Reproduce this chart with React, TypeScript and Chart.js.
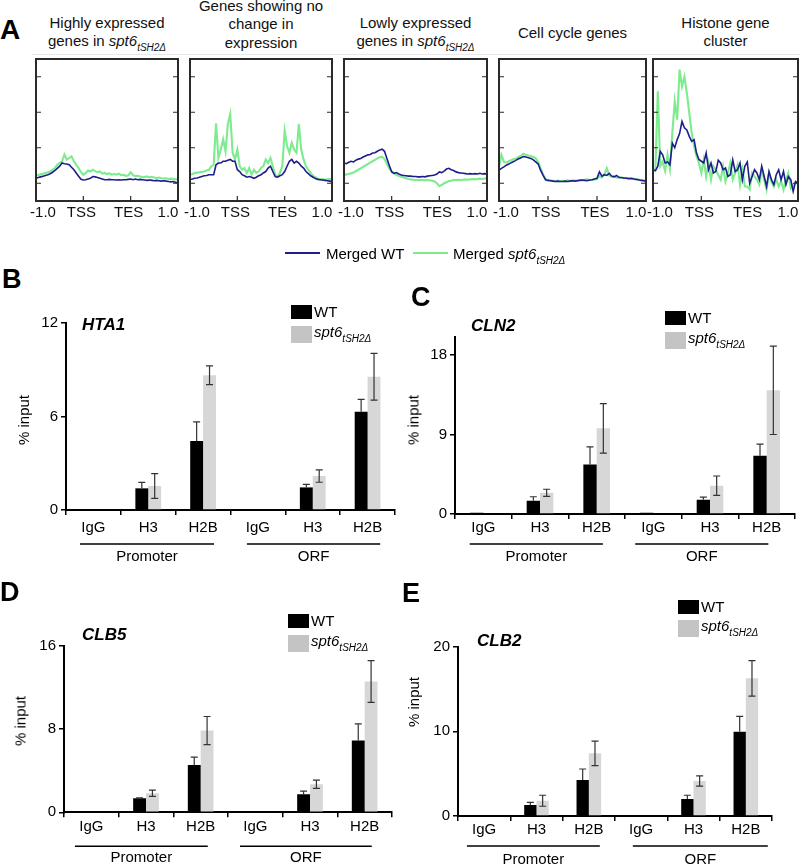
import React, { useEffect, useRef } from 'react';
import { Chart, registerables } from 'chart.js';
Chart.register(...registerables);

const FONT = '"Liberation Sans", Arial, Helvetica, sans-serif';
const BLUE = '#1e1e8c';
const GREEN = '#7deb8e';

// ---------- Panel A data (profiles, 61 bins from -1.0 kb to +1.0 kb, TSS=20, TES=40) ----------
const profileTickLabels = ['-1.0', 'TSS', 'TES', '1.0'];
const profileTickPositions = [0, 20, 40, 60];
const profileYTicks = [0.5, 1.5, 2.5, 3.5];

const highWT = [
  0.64, 0.66, 0.68, 0.70, 0.72, 0.74, 0.77, 0.81, 0.86, 0.92, 0.98,
  1.07, 1.05, 1.04, 1.02, 0.95, 0.88, 0.79, 0.70, 0.61, 0.59,
  0.60, 0.62, 0.64, 0.69, 0.68, 0.66, 0.64, 0.62, 0.60, 0.60,
  0.61, 0.60, 0.60, 0.59, 0.60, 0.59, 0.60, 0.60, 0.61, 0.62,
  0.60, 0.62, 0.60, 0.61, 0.60, 0.59, 0.58, 0.59, 0.58, 0.57,
  0.58, 0.57, 0.56, 0.57, 0.56, 0.55, 0.54, 0.55, 0.53, 0.52,
];
const highMut = [
  0.71, 0.73, 0.75, 0.77, 0.79, 0.81, 0.83, 0.88, 0.93, 1.02, 1.07,
  1.12, 1.31, 1.17, 1.21, 1.26, 1.12, 1.02, 0.93, 0.81, 0.74,
  0.79, 0.86, 0.83, 0.88, 0.84, 0.81, 0.83, 0.77, 0.79, 0.76,
  0.78, 0.74, 0.76, 0.74, 0.77, 0.73, 0.74, 0.71, 0.72, 0.81,
  0.73, 0.70, 0.71, 0.69, 0.67, 0.68, 0.69, 0.67, 0.68, 0.66,
  0.65, 0.66, 0.64, 0.63, 0.64, 0.62, 0.63, 0.62, 0.61, 0.61,
];
const noChangeWT = [
  0.61, 0.62, 0.64, 0.65, 0.67, 0.69, 0.71, 0.72, 0.74, 0.74, 0.74,
  1.02, 1.07, 1.07, 1.12, 1.12, 1.15, 1.17, 1.12, 1.12, 0.88,
  0.83, 0.74, 0.71, 0.67, 0.69, 0.67, 0.64, 0.67, 0.71, 0.74,
  0.79, 0.83, 0.93, 0.98, 0.83, 0.69, 0.67, 0.71, 0.74, 0.83,
  0.98, 1.12, 1.17, 1.07, 1.12, 1.07, 0.98, 0.93, 0.83, 0.77,
  0.71, 0.67, 0.63, 0.61, 0.60, 0.59, 0.58, 0.57, 0.56, 0.55,
];
const noChangeMut = [
  0.74, 0.76, 0.79, 0.80, 0.81, 0.82, 0.83, 0.86, 0.88, 0.98, 1.02,
  2.19, 1.21, 1.45, 1.74, 1.40, 2.17, 2.45, 1.36, 1.17, 1.45,
  0.98, 0.88, 0.93, 0.79, 0.93, 0.74, 0.88, 0.79, 0.83, 0.93,
  0.98, 1.17, 1.07, 1.21, 0.98, 0.74, 0.69, 0.79, 0.98, 1.98,
  1.55, 1.36, 1.64, 1.45, 1.36, 2.17, 1.45, 1.17, 0.98, 0.88,
  0.79, 0.71, 0.67, 0.63, 0.61, 0.62, 0.60, 0.61, 0.62, 0.61,
];
const lowWT = [
  1.07, 1.05, 1.09, 1.12, 1.10, 1.15, 1.18, 1.20, 1.24, 1.27, 1.30,
  1.31, 1.35, 1.36, 1.40, 1.44, 1.46, 1.40, 1.20, 1.00, 0.82,
  0.78, 0.80, 0.76, 0.73, 0.72, 0.71, 0.70, 0.70, 0.69, 0.69,
  0.68, 0.68, 0.69, 0.68, 0.70, 0.71, 0.72, 0.73, 0.76, 0.82,
  0.80, 0.84, 0.90, 0.92, 0.88, 0.86, 0.82, 0.80, 0.79, 0.78,
  0.77, 0.76, 0.77, 0.76, 0.77, 0.76, 0.78, 0.76, 0.77, 0.76,
];
const lowMut = [
  0.73, 0.75, 0.76, 0.78, 0.80, 0.84, 0.88, 0.92, 0.96, 1.00, 1.04,
  1.08, 1.12, 1.16, 1.20, 1.23, 1.25, 1.18, 1.05, 0.92, 0.84,
  0.78, 0.74, 0.70, 0.68, 0.66, 0.64, 0.62, 0.61, 0.60, 0.59,
  0.59, 0.60, 0.59, 0.58, 0.59, 0.58, 0.57, 0.55, 0.50, 0.42,
  0.45, 0.50, 0.53, 0.56, 0.57, 0.59, 0.59, 0.60, 0.59, 0.60,
  0.61, 0.60, 0.61, 0.62, 0.61, 0.62, 0.63, 0.62, 0.63, 0.64,
];
const cellCycleWT = [
  0.87, 0.92, 0.96, 1.01, 1.04, 1.08, 1.11, 1.15, 1.19, 1.22, 1.25,
  1.24, 1.22, 1.20, 1.16, 1.10, 1.04, 0.86, 0.72, 0.60, 0.58,
  0.57, 0.56, 0.55, 0.56, 0.55, 0.55, 0.56, 0.55, 0.56, 0.57,
  0.56, 0.57, 0.58, 0.59, 0.58, 0.57, 0.59, 0.60, 0.62, 0.64,
  0.82, 0.70, 0.74, 0.72, 0.78, 0.70, 0.68, 0.72, 0.66, 0.66,
  0.65, 0.64, 0.63, 0.64, 0.62, 0.61, 0.60, 0.58, 0.57, 0.56,
];
const cellCycleMut = [
  0.95, 1.30, 1.10, 1.08, 1.12, 1.15, 1.18, 1.20, 1.24, 1.28, 1.33,
  1.30, 1.28, 1.27, 1.24, 1.20, 1.10, 0.92, 0.75, 0.62, 0.58,
  0.58, 0.57, 0.56, 0.57, 0.56, 0.57, 0.56, 0.58, 0.57, 0.58,
  0.57, 0.58, 0.59, 0.58, 0.60, 0.61, 0.59, 0.60, 0.61, 0.62,
  0.70, 0.66, 0.75, 0.92, 0.72, 0.68, 0.70, 0.66, 0.67, 0.65,
  0.64, 0.65, 0.63, 0.62, 0.63, 0.61, 0.60, 0.59, 0.58, 0.57,
];
const histoneWT = [
  0.88, 0.85, 0.98, 1.40, 1.30, 1.07, 1.10, 1.02, 1.63, 1.50, 1.73,
  1.90, 2.24, 2.06, 2.00, 1.82, 1.68, 1.73, 1.35, 1.17, 1.12,
  1.07, 1.35, 0.88, 1.07, 0.79, 0.83, 1.15, 1.07, 0.88, 0.93,
  0.69, 0.74, 1.16, 0.83, 0.88, 1.07, 0.60, 0.98, 1.10, 0.50,
  0.69, 0.88, 0.79, 0.60, 0.98, 0.69, 0.41, 0.83, 0.60, 0.46,
  0.74, 0.88, 0.60, 0.83, 0.46, 0.69, 0.60, 0.27, 0.55, 0.51,
];
const histoneMut = [
  0.88, 0.90, 3.09, 0.98, 1.10, 0.85, 1.30, 0.90, 1.92, 2.81, 2.29,
  3.70, 3.23, 3.50, 3.04, 2.48, 1.92, 1.54, 1.26, 1.07, 0.79,
  1.17, 0.69, 1.07, 0.60, 0.98, 0.88, 0.74, 0.60, 0.98, 0.55,
  0.79, 1.07, 0.60, 0.79, 1.02, 0.46, 0.88, 0.41, 0.41, 0.32,
  0.79, 0.69, 0.60, 0.46, 0.88, 0.60, 0.32, 0.79, 0.55, 0.41,
  0.60, 0.41, 0.55, 0.32, 0.60, 0.79, 0.36, 0.46, 0.51, 0.50,
];

// ---------- Panels B-E data (% input) ----------
const chipCategories = ['IgG', 'H3', 'H2B', 'IgG', 'H3', 'H2B'];
const chipGroups = ['Promoter', 'ORF'];

const hta1WT = [0, 1.39, 4.42, 0, 1.45, 6.3];
const hta1WTErr = [0, 0.38, 1.24, 0, 0.2, 0.8];
const hta1Mut = [0, 1.54, 8.65, 0, 2.18, 8.55];
const hta1MutErr = [0, 0.8, 0.6, 0, 0.4, 1.5];
const hta1Ticks = [0, 6, 12];

const cln2WT = [0.15, 1.5, 5.6, 0.15, 1.6, 6.6];
const cln2WTErr = [0, 0.45, 2.0, 0, 0.3, 1.3];
const cln2Mut = [0, 2.4, 9.7, 0, 3.2, 14.0];
const cln2MutErr = [0, 0.4, 2.8, 0, 1.1, 5.0];
const cln2Ticks = [0, 9, 18];

const clb5WT = [0, 1.34, 4.55, 0, 1.73, 6.9];
const clb5WTErr = [0, 0.05, 0.75, 0, 0.3, 1.6];
const clb5Mut = [0, 1.83, 7.85, 0, 2.69, 12.56];
const clb5MutErr = [0, 0.3, 1.35, 0, 0.4, 2.0];
const clb5Ticks = [0, 8, 16];

const clb2WT = [0, 1.3, 4.25, 0, 2.0, 9.96];
const clb2WTErr = [0, 0.3, 1.3, 0, 0.45, 1.8];
const clb2Mut = [0, 1.8, 7.4, 0, 4.13, 16.26];
const clb2MutErr = [0, 0.65, 1.45, 0, 0.6, 2.1];
const clb2Ticks = [0, 10, 20];

// ---------- plugins ----------
const profileFramePlugin = {
  id: 'profileFrame',
  afterDraw(chart: any) {
    const { ctx, chartArea: a, scales } = chart;
    ctx.save();
    ctx.strokeStyle = '#2a2a2a';
    ctx.lineWidth = 2;
    ctx.strokeRect(a.left, a.top, a.right - a.left, a.bottom - a.top);
    ctx.lineWidth = 1.2;
    ctx.beginPath();
    for (const v of profileYTicks) {
      const y = scales.y.getPixelForValue(v);
      ctx.moveTo(a.left, y);
      ctx.lineTo(a.left + 5, y);
      ctx.moveTo(a.right, y);
      ctx.lineTo(a.right - 5, y);
    }
    for (const v of [profileTickPositions[1], profileTickPositions[2]]) {
      const x = scales.x.getPixelForValue(v);
      ctx.moveTo(x, a.bottom);
      ctx.lineTo(x, a.bottom - 5);
    }
    ctx.stroke();
    // tick labels
    ctx.fillStyle = '#111';
    ctx.font = `15px ${FONT}`;
    ctx.textAlign = 'center';
    ctx.textBaseline = 'middle';
    const n = profileTickPositions.length;
    profileTickPositions.forEach((v, i) => {
      let x = scales.x.getPixelForValue(v);
      if (i === 0) x = a.left + 7;
      else if (i === n - 1) x = a.right - 10;
      else x = x - 2;
      ctx.fillText(profileTickLabels[i], x, a.bottom + 11.5);
    });
    ctx.restore();
  },
};

function ProfileChart({ box, wt, mut }: any) {
  const ref = useRef<HTMLCanvasElement>(null);
  const padL = 16, padR = 16, padT = 4, axisH = 24;
  const [x0, y0, x1, y1] = box;
  const cw = x1 - x0 + padL + padR;
  const ch = y1 - y0 + padT + axisH;
  useEffect(() => {
    const toPts = (arr: number[]) => arr.map((v, i) => ({ x: (i * 60) / (arr.length - 1), y: v }));
    const chart = new Chart(ref.current as HTMLCanvasElement, {
      type: 'line',
      data: {
        datasets: [
          { data: toPts(wt), borderColor: BLUE, borderWidth: 1.6, pointRadius: 0, tension: 0 },
          { data: toPts(mut), borderColor: GREEN, borderWidth: 2.1, pointRadius: 0, tension: 0 },
        ],
      },
      options: {
        animation: false,
        responsive: false,
        events: [],
        layout: { padding: { left: padL, right: padR, top: padT, bottom: 0 } },
        plugins: { legend: { display: false }, tooltip: { enabled: false } },
        scales: {
          x: {
            type: 'linear',
            min: 0,
            max: 60,
            afterBuildTicks: (s: any) => {
              s.ticks = profileTickPositions.map((v) => ({ value: v }));
            },
            afterFit: (s: any) => {
              s.height = axisH;
            },
            ticks: { display: false },
            grid: { display: false, drawTicks: false },
            border: { display: false },
          },
          y: { display: false, min: 0, max: 4 },
        },
      } as any,
      plugins: [profileFramePlugin],
    });
    return () => chart.destroy();
  }, []);
  return (
    <canvas
      ref={ref}
      width={cw}
      height={ch}
      style={{ position: 'absolute', left: x0 - padL, top: y0 - padT, width: cw, height: ch }}
    />
  );
}

function ChipChart({ cfg }: any) {
  const ref = useRef<HTMLCanvasElement>(null);
  const [L, T, W, H] = cfg.canvas;
  const [x0, y0, x1, y1] = cfg.area;
  useEffect(() => {
    const extras = {
      id: 'chipExtras',
      afterDatasetsDraw(chart: any) {
        const { ctx, scales } = chart;
        const y = scales.y;
        ctx.save();
        ctx.strokeStyle = '#333';
        ctx.lineWidth = 1.2;
        [[cfg.wt, cfg.wtErr], [cfg.mut, cfg.mutErr]].forEach(([vals, errs]: any, d: number) => {
          const meta = chart.getDatasetMeta(d);
          vals.forEach((v: number, i: number) => {
            const e = errs[i];
            if (!e) return;
            const px = meta.data[i].x;
            const yt = y.getPixelForValue(v + e);
            const yb = y.getPixelForValue(v - e);
            const yv = y.getPixelForValue(v);
            ctx.beginPath();
            ctx.moveTo(px - 3.5, yt);
            ctx.lineTo(px + 3.5, yt);
            ctx.moveTo(px, yt);
            if (d === 0) {
              // lower half is hidden inside the black bar
              ctx.lineTo(px, yv);
            } else {
              ctx.lineTo(px, yb);
              ctx.moveTo(px - 3.5, yb);
              ctx.lineTo(px + 3.5, yb);
            }
            ctx.stroke();
          });
        });
        ctx.restore();
      },
      afterDraw(chart: any) {
        const { ctx, scales, chartArea } = chart;
        const x = scales.x;
        const c0 = x.getPixelForValue(0);
        const w = x.getPixelForValue(1) - c0;
        ctx.save();
        cfg.groups.forEach(([f0, f1]: number[], gi: number) => {
          const a = c0 + f0 * w;
          const b = c0 + f1 * w;
          const yl = chartArea.bottom + cfg.lineOff;
          ctx.strokeStyle = '#000';
          ctx.lineWidth = 1.5;
          ctx.beginPath();
          ctx.moveTo(a, yl);
          ctx.lineTo(b, yl);
          ctx.stroke();
          ctx.fillStyle = '#000';
          ctx.font = `15px ${FONT}`;
          ctx.textAlign = 'center';
          ctx.textBaseline = 'middle';
          ctx.fillText(chipGroups[gi], (a + b) / 2, chartArea.bottom + cfg.labelOff);
        });
        ctx.restore();
      },
    };
    const chart = new Chart(ref.current as HTMLCanvasElement, {
      type: 'bar',
      data: {
        labels: chipCategories,
        datasets: [
          { label: 'WT', data: cfg.wt, backgroundColor: '#000', barPercentage: 1, categoryPercentage: 0.47, borderWidth: 0 },
          { label: 'spt6', data: cfg.mut, backgroundColor: '#d7d7d7', barPercentage: 1, categoryPercentage: 0.47, borderWidth: 0 },
        ],
      },
      options: {
        animation: false,
        responsive: false,
        events: [],
        layout: { padding: { left: 0, top: y0 - T, right: L + W - x1, bottom: 0 } },
        plugins: { legend: { display: false }, tooltip: { enabled: false } },
        scales: {
          x: {
            afterFit: (s: any) => {
              s.height = T + H - y1;
            },
            grid: { offset: true, drawOnChartArea: false, tickLength: 5, color: '#000', lineWidth: 1.5 },
            border: { color: '#000', width: 2 },
            ticks: { color: '#000', font: { family: FONT, size: 15 }, padding: cfg.labelPad, maxRotation: 0, autoSkip: false },
          },
          y: {
            min: 0,
            max: cfg.yMax,
            afterBuildTicks: (s: any) => {
              s.ticks = cfg.yTicks.map((v: number) => ({ value: v }));
            },
            afterFit: (s: any) => {
              s.width = x0 - L;
            },
            grid: { drawOnChartArea: false, tickLength: 5, color: '#000', lineWidth: 1.5 },
            border: { color: '#000', width: 2 },
            ticks: { color: '#000', font: { family: FONT, size: 15 }, padding: 3 },
          },
        },
      } as any,
      plugins: [extras],
    });
    return () => chart.destroy();
  }, []);
  return (
    <canvas ref={ref} width={W} height={H} style={{ position: 'absolute', left: L, top: T, width: W, height: H }} />
  );
}

const abs = (extra: any): any => ({ position: 'absolute', whiteSpace: 'nowrap', ...extra });

function MutName({ size = 15, sub = 10 }: any) {
  return (
    <span style={{ fontStyle: 'italic' }}>
      <span style={{ fontSize: size }}>spt6</span>
      <span style={{ fontSize: sub, position: 'relative', top: size * 0.3 }}>tSH2Δ</span>
    </span>
  );
}

function ChipLegend({ x, yb, yg }: any) {
  return (
    <>
      <div style={abs({ left: x, top: yb, width: 21, height: 14, background: '#000' })} />
      <div style={abs({ left: x + 23, top: yb + 7, transform: 'translateY(-50%)', fontSize: 15, lineHeight: '16px' })}>WT</div>
      <div style={abs({ left: x, top: yg, width: 21, height: 17, background: '#c4c4c4' })} />
      <div style={abs({ left: x + 23, top: yg + 7, transform: 'translateY(-50%)', lineHeight: '16px' })}>
        <MutName size={15} sub={10} />
      </div>
    </>
  );
}

function Centered({ cx, cy, style, children }: any) {
  return <div style={abs({ left: cx, top: cy, transform: 'translate(-50%, -50%)', ...style })}>{children}</div>;
}

export default function App() {
  const boxes = [
    [36, 59, 178, 201],
    [190, 59, 332, 201],
    [344, 59, 487, 201],
    [499, 59, 646, 201],
    [653, 59, 798, 201],
  ];
  const chipPanels = [
    { canvas: [0, 295, 400, 285], area: [66, 323, 395, 510], yMax: 12, yTicks: hta1Ticks, wt: hta1WT, wtErr: hta1WTErr, mut: hta1Mut, mutErr: hta1MutErr, labelPad: 4, lineOff: 34, labelOff: 47, groups: [[-0.245, 2.2], [2.8, 5.23]] },
    { canvas: [400, 295, 400, 285], area: [455, 337.3, 795, 514], yMax: 20, yTicks: cln2Ticks, wt: cln2WT, wtErr: cln2WTErr, mut: cln2Mut, mutErr: cln2MutErr, labelPad: 0, lineOff: 30, labelOff: 43, groups: [[-0.24, 2.11], [2.68, 5.03]] },
    { canvas: [0, 585, 400, 279], area: [64, 645.7, 392, 812.3], yMax: 16, yTicks: clb5Ticks, wt: clb5WT, wtErr: clb5WTErr, mut: clb5Mut, mutErr: clb5MutErr, labelPad: 0.5, lineOff: 34, labelOff: 46, groups: [[-0.3, 2.13], [2.72, 5.13]] },
    { canvas: [400, 585, 400, 279], area: [458, 646.7, 772, 816], yMax: 20, yTicks: clb2Ticks, wt: clb2WT, wtErr: clb2WTErr, mut: clb2Mut, mutErr: clb2MutErr, labelPad: 0, lineOff: 30, labelOff: 44, groups: [[-0.33, 2.21], [2.84, 5.42]] },
  ];
  const titleStyle = { fontSize: 15, lineHeight: '18.5px', textAlign: 'center', width: 200, color: '#111' };
  const letter = { fontSize: 27, fontWeight: 'bold', lineHeight: '27px' };
  const gene = { fontSize: 17, fontWeight: 'bold', fontStyle: 'italic', lineHeight: '18px' };
  const yTitle = { fontSize: 15, transform: 'translate(-50%, -50%) rotate(-90deg)' };
  return (
    <div style={{ position: 'absolute', left: 0, top: 0, width: 800, height: 864, overflow: 'hidden', background: '#fff', fontFamily: FONT, color: '#000' }}>
      {/* Panel A */}
      <div style={abs({ left: 0, top: 16, ...letter, fontSize: 28 })}>A</div>
      <div style={abs({ left: 107 - 100, top: 13.75, ...titleStyle })}>
        Highly expressed<br />genes in <MutName size={15} sub={10} />
      </div>
      <div style={abs({ left: 261 - 100, top: -3.25, ...titleStyle })}>
        Genes showing no<br />change in<br />expression
      </div>
      <div style={abs({ left: 415.5 - 100, top: 13.75, ...titleStyle })}>
        Lowly expressed<br />genes in <MutName size={15} sub={10} />
      </div>
      <div style={abs({ left: 572.5 - 100, top: 23.75, ...titleStyle })}>Cell cycle genes</div>
      <div style={abs({ left: 725.5 - 100, top: 13.75, ...titleStyle })}>
        Histone gene<br />cluster
      </div>
      <div style={abs({ left: 32, top: 54, width: 768, height: 1, background: '#e8e8e8' })} />
      <ProfileChart box={boxes[0]} wt={highWT} mut={highMut} />
      <ProfileChart box={boxes[1]} wt={noChangeWT} mut={noChangeMut} />
      <ProfileChart box={boxes[2]} wt={lowWT} mut={lowMut} />
      <ProfileChart box={boxes[3]} wt={cellCycleWT} mut={cellCycleMut} />
      <ProfileChart box={boxes[4]} wt={histoneWT} mut={histoneMut} />
      <div style={abs({ left: 285, top: 252, width: 35, height: 2, background: BLUE })} />
      <div style={abs({ left: 326, top: 253, transform: 'translateY(-50%)', fontSize: 15 })}>Merged WT</div>
      <div style={abs({ left: 413, top: 252, width: 35, height: 2, background: GREEN })} />
      <div style={abs({ left: 453, top: 253, transform: 'translateY(-50%)', fontSize: 15 })}>
        Merged <MutName size={15} sub={10} />
      </div>

      {/* Panel B */}
      <div style={abs({ left: 2, top: 266, ...letter })}>B</div>
      <ChipChart cfg={chipPanels[0]} />
      <div style={abs({ left: 82, top: 316, ...gene })}>HTA1</div>
      <Centered cx={23} cy={420} style={yTitle}>% input</Centered>
      <ChipLegend x={291} yb={305} yg={326} />

      {/* Panel C */}
      <div style={abs({ left: 411, top: 284, ...letter })}>C</div>
      <ChipChart cfg={chipPanels[1]} />
      <div style={abs({ left: 471, top: 317, ...gene })}>CLN2</div>
      <Centered cx={413} cy={420} style={yTitle}>% input</Centered>
      <ChipLegend x={665} yb={311} yg={332} />

      {/* Panel D */}
      <div style={abs({ left: 0, top: 579, ...letter })}>D</div>
      <ChipChart cfg={chipPanels[2]} />
      <div style={abs({ left: 82, top: 626, ...gene })}>CLB5</div>
      <Centered cx={20} cy={721} style={yTitle}>% input</Centered>
      <ChipLegend x={288} yb={614} yg={635} />

      {/* Panel E */}
      <div style={abs({ left: 402, top: 580, ...letter })}>E</div>
      <ChipChart cfg={chipPanels[3]} />
      <div style={abs({ left: 477, top: 632, ...gene })}>CLB2</div>
      <Centered cx={413} cy={702} style={yTitle}>% input</Centered>
      <ChipLegend x={678} yb={600} yg={620} />
    </div>
  );
}
